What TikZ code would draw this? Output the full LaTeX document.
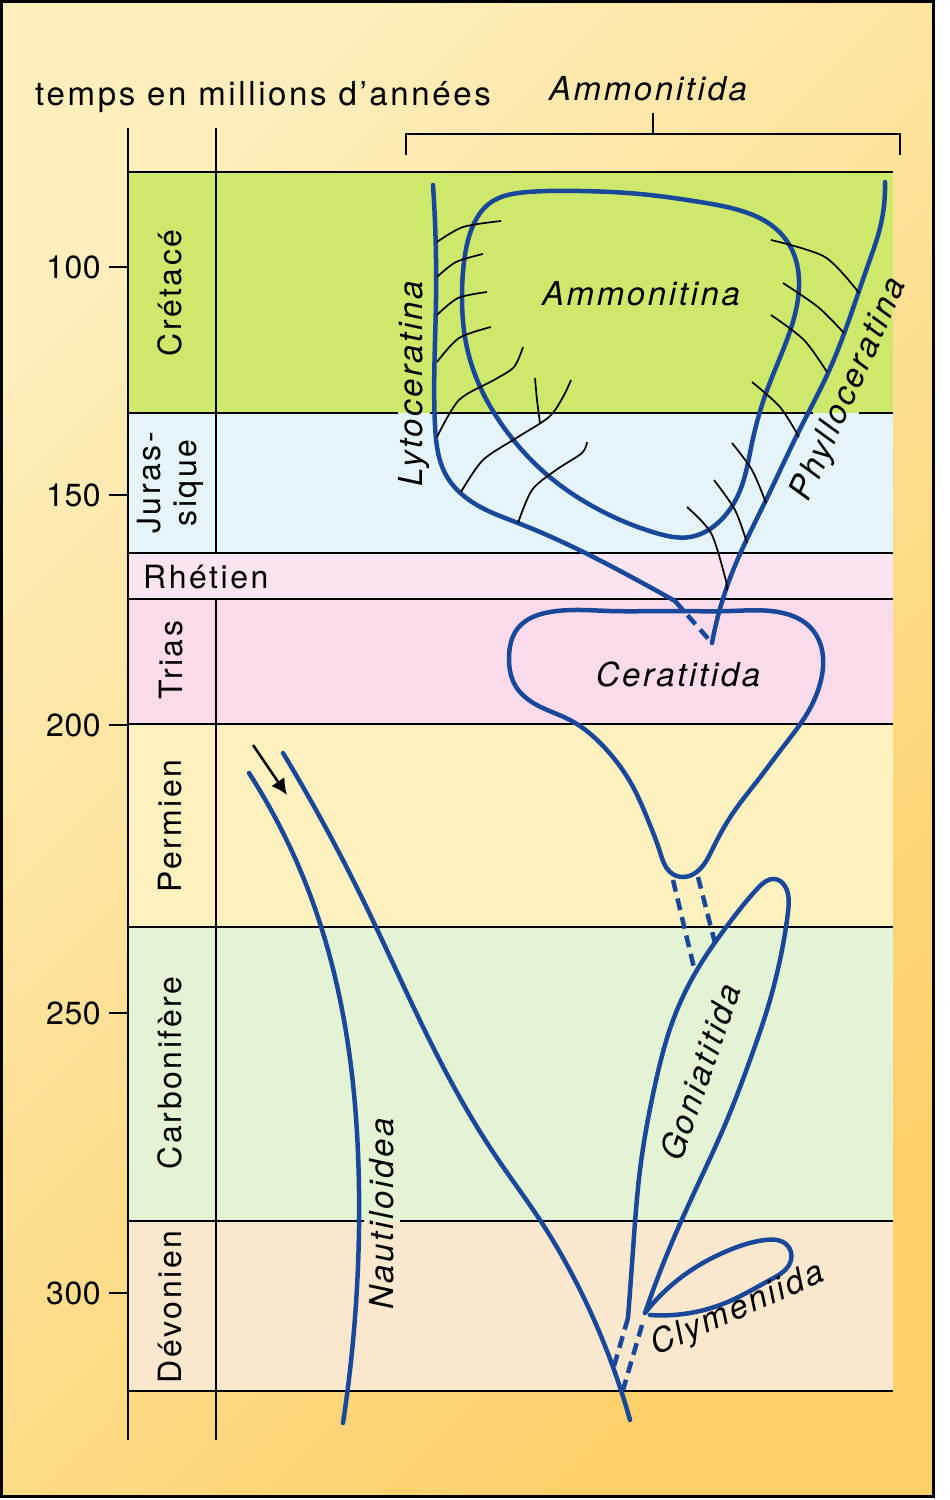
\documentclass[tikz,border=0pt]{standalone}
\usepackage{fontspec}
\setmainfont{TeX Gyre Heros}[LetterSpace=8]
\usepackage{tikz}
\usetikzlibrary{arrows.meta,hobby}
\definecolor{bgtop}{RGB}{253,238,188}
\definecolor{bgbottom}{RGB}{253,208,105}
\definecolor{cretgreen}{RGB}{205,232,106}
\definecolor{jurblue}{RGB}{228,244,248}
\definecolor{rhetpink}{RGB}{251,228,241}
\definecolor{triaspink}{RGB}{250,219,236}
\definecolor{permyellow}{RGB}{253,242,191}
\definecolor{carbgreen}{RGB}{229,243,213}
\definecolor{devbeige}{RGB}{249,232,205}
\definecolor{lineageblue}{RGB}{25,72,155}

\begin{document}
\begin{tikzpicture}[x=1pt,y=-1pt,
  every node/.style={font=\fontsize{32}{36}\selectfont, inner sep=0pt},
  taxon/.style={font=\fontsize{33}{36}\selectfont\itshape},
  lineage/.style={lineageblue, line width=4.5pt, line cap=round, line join=round},
  fossil/.style={lineageblue, line width=4.5pt, dash pattern=on 12pt off 7pt},
  suture/.style={black, line width=1.7pt},
  rule/.style={black, line width=2.5pt}]
  \useasboundingbox (0,0) rectangle (950,1500);
  \shade[top color=bgtop, bottom color=bgbottom, shading angle=45] (1,1) rectangle (933,1496);
  \draw[line width=3pt] (1,1) rectangle (933,1496);
  \foreach \ya/\yb/\c in {172/413/cretgreen, 413/553/jurblue, 553/599/rhetpink, 599/724/triaspink,
    724/927/permyellow, 927/1221/carbgreen, 1221/1391/devbeige}
    \fill[\c] (128,\ya) rectangle (893,\yb);
  \foreach \y in {172,553,599,724,927,1391}
    \draw[rule] (128,\y) -- (893,\y);
  \draw[rule] (128,413) -- (398,413) (430,413) -- (813,413) (859,413) -- (893,413);
  \draw[rule] (128,1221) -- (364,1221) (400,1221) -- (893,1221);
  \draw[rule] (128,128) -- (128,1440);
  \draw[rule] (216,128) -- (216,553) (216,599) -- (216,1440);
  \foreach \y/\t in {267/100,495/150,725/200,1013/250,1293/300}
    \draw[rule] (128,\y) -- (109,\y) node[left=7pt] (tick\t) {\addfontfeature{LetterSpace=2}\t};

  \node[anchor=base west, font=\fontsize{33}{36}\selectfont] (temps) at (35,105) {temps en millions d’années};
  \node[taxon, anchor=base] (ammonitida) at (648,100) {Ammonitida};
  \coordinate (bracket) at (653,134);
  \draw[rule] (406,155) -- (406,134) -- (900,134) -- (900,155);
  \draw[rule] (bracket) -- ++(0,-21);

  \node[rotate=90] (cretace) at (170,293) {Crétacé};
  \node[rotate=90, align=center] (jurassique) at (170,483) {Juras-\\sique};
  \node[anchor=base west] (rhetien) at (143,588) {Rhétien};
  \node[rotate=90] (trias) at (171,660) {Trias};
  \node[rotate=90] (permien) at (170,826) {Permien};
  \node[rotate=90] (carbonifere) at (170,1073) {Carbonifère};
  \node[rotate=90] (devonien) at (170,1307) {Dévonien};

  \coordinate (vtip) at (712,643);
  \draw[lineage, use Hobby shortcut] (433,185) .. (436,300) .. (435,425) .. (446,475) .. (472,502)
    .. (518,523) .. (573,547) .. (637,580) .. (675,601);
  \draw[fossil] (675,601) -- (vtip);
  \draw[lineage, use Hobby shortcut] (885,182) .. (880,228) .. (868,265) .. (828,373) .. (801,427)
    .. (766,500) .. (732,573) .. (712,643);
  \draw[lineage, use Hobby shortcut, closed=true] (490,203) .. (528,192) .. (580,191) .. (640,194)
    .. (700,202) .. (745,212) .. (775,228) .. (793,252) .. (799,287) .. (792,325) .. (779,360)
    .. (766,393) .. (752,443) .. (739,493) .. (721,520) .. (690,537) .. (656,533) .. (625,522)
    .. (594,507) .. (545,473) .. (511,437) .. (483,393) .. (466,343) .. (462,300) .. (464,262)
    .. (472,228);

  \draw[suture] plot[smooth] coordinates {(437,242) (463,227) (501,221)};
  \draw[suture] plot[smooth] coordinates {(437,277) (456,262) (483,254)};
  \draw[suture] plot[smooth] coordinates {(437,315) (458,298) (487,292)};
  \draw[suture] plot[smooth] coordinates {(437,362) (459,338) (491,327)};
  \draw[suture] plot[smooth] coordinates {(437,437) (459,400) (494,380) (514,367) (523,347)};
  \draw[suture] plot[smooth] coordinates {(461,492) (483,460) (518,437) (549,417) (563,397) (571,380)};
  \draw[suture] plot[smooth] coordinates {(535,378) (537,400) (540,423)};
  \draw[suture] plot[smooth] coordinates {(518,523) (532,490) (556,470) (582,453) (587,442)};
  \draw[suture] plot[smooth] coordinates {(771,240) (825,257) (859,293)};
  \draw[suture] plot[smooth] coordinates {(783,283) (818,307) (844,333)};
  \draw[suture] plot[smooth] coordinates {(771,315) (804,340) (827,372)};
  \draw[suture] plot[smooth] coordinates {(752,382) (780,407) (799,437)};
  \draw[suture] plot[smooth] coordinates {(732,443) (752,470) (766,503)};
  \draw[suture] plot[smooth] coordinates {(714,480) (735,510) (747,543)};
  \draw[suture] plot[smooth] coordinates {(687,507) (711,533) (725,577) (727,590)};

  \draw[lineage, use Hobby shortcut, closed=true] (550,612) .. (610,611) .. (670,611) .. (730,611)
    .. (783,613) .. (810,627) .. (822,650) .. (821,680) .. (808,712) .. (783,747) .. (758,780)
    .. (733,813) .. (713,848) .. (699,870) .. (684,877) .. (670,872) .. (660,852) .. (648,820)
    .. (632,785) .. (605,748) .. (570,720) .. (535,704) .. (515,685) .. (509,658) .. (518,628);
  \draw[fossil] (673,880) -- (695,972);
  \draw[fossil] (698,877) -- (715,943);

  \draw[lineage, use Hobby shortcut] (628,1318) .. (633,1250) .. (640,1170) .. (655,1085) .. (675,1015)
    .. (700,965) .. (730,922) .. (758,888) .. (775,879) .. (786,888) .. (788,912) .. (782,950)
    .. (770,1000) .. (750,1060) .. (727,1120) .. (700,1180) .. (670,1247) .. (645,1313);
  \draw[lineage, use Hobby shortcut] (645,1313) .. (687,1273) .. (727,1251) .. (765,1240) .. (787,1245)
    .. (791,1260) .. (770,1280) .. (730,1301) .. (690,1313) .. (650,1315);
  \draw[fossil] (628,1318) -- (614,1366);
  \draw[fossil] (642,1325) -- (623,1390);

  \draw[lineage, use Hobby shortcut] (249,773) .. (312,900) .. (347,1038) .. (359,1190) .. (343,1423);
  \draw[lineage, use Hobby shortcut] (283,753) .. (363,900) .. (437,1055) .. (497,1158) .. (540,1220)
    .. (583,1296) .. (630,1420);
  \draw[-{Latex[length=16pt,width=16pt]}, line width=2.5pt] (253,745) -- (287,795);

  \node[taxon, rotate=90] (lytoceratina) at (414,384) {Lytoceratina};
  \node[taxon] (ammonitina) at (641,294) {Ammonitina};
  \node[taxon, rotate=66] (phylloceratina) at (850,390) {Phylloceratina};
  \node[taxon] (ceratitida) at (678,674) {Ceratitida};
  \node[taxon, rotate=71] (goniatitida) at (700,1072) {Goniatitida};
  \node[taxon, rotate=24] (clymeniida) at (738,1310) {Clymeniida};
  \node[taxon, rotate=90] (nautiloidea) at (382,1214) {Nautiloidea};
\end{tikzpicture}
\end{document}
